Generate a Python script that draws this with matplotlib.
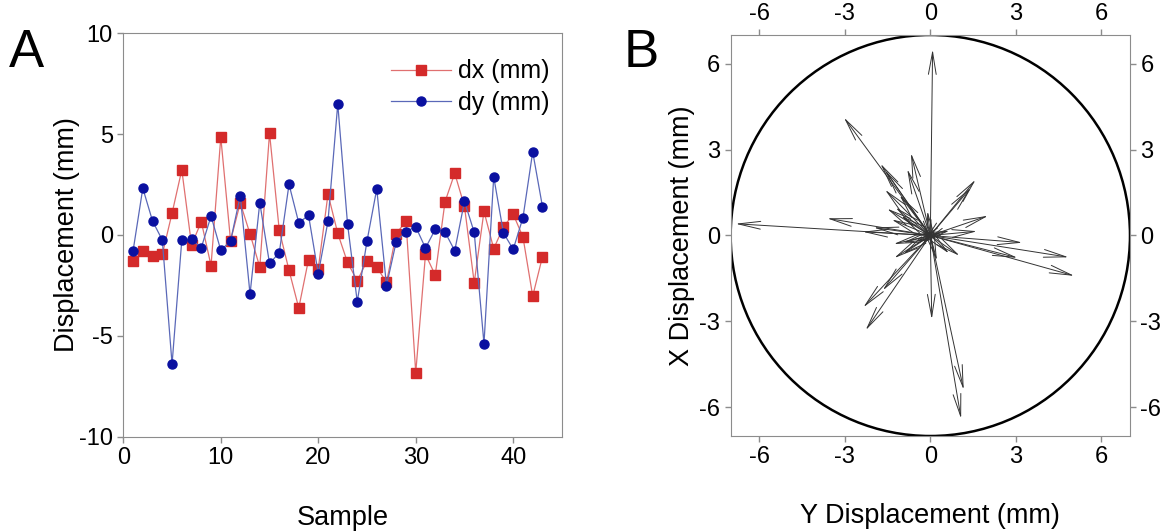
import matplotlib
matplotlib.use("Agg")
import matplotlib.pyplot as plt
from matplotlib.patches import Circle

plt.rcParams['font.family'] = ['Liberation Sans', 'DejaVu Sans']
plt.rcParams['axes.unicode_minus'] = False

sample = list(range(1, 44))
dx = [-1.27, -0.81, -1.03, -0.96, 1.08, 3.23, -0.50, 0.66, -1.52, 4.85,
      -0.28, 1.59, 0.05, -1.59, 5.05, 0.23, -1.75, -3.62, -1.22, -1.67,
      2.03, 0.08, -1.36, -2.27, -1.29, -1.59, -2.35, 0.07, 0.68, -6.83,
      -0.96, -1.99, 1.64, 3.06, 1.42, -2.37, 1.17, -0.68, 0.40, 1.03,
      -0.10, -3.03, -1.08]
dy = [-0.79, 2.32, 0.69, -0.25, -6.40, -0.25, -0.22, -0.63, 0.94, -0.76,
      -0.30, 1.95, -2.93, 1.60, -1.41, -0.88, 2.51, 0.60, 0.98, -1.92,
      0.69, 6.50, 0.56, -3.31, -0.30, 2.28, -2.51, -0.33, 0.17, 0.41,
      -0.65, 0.28, 0.15, -0.78, 1.67, 0.13, -5.39, 2.88, 0.10, -0.71,
      0.86, 4.12, 1.41]
ticks_a = [0, 10, 20, 30, 40]
yticks_a = [-10, -5, 0, 5, 10]
ticks_b = [-6, -3, 0, 3, 6]

spine_col = '#8c8c8c'
fs = 17     # tick labels
lfs = 19.5  # axis labels

fig = plt.figure(figsize=(11.7, 5.31), dpi=100)

# panel A
ax = fig.add_axes([0.1054, 0.1776, 0.3749, 0.7597])
ax.plot(sample, dx, '-s', color='#e07070', lw=0.9, ms=6.5,
        mfc='#d42a2a', mec='#d42a2a', label='dx (mm)')
ax.plot(sample, dy, '-o', color='#5a68b8', lw=0.9, ms=6.5,
        mfc='#0a10a0', mec='#0a10a0', label='dy (mm)')
ax.set_xlim(0, 45)
ax.set_ylim(-10, 10)
ax.set_xticks(ticks_a)
ax.set_yticks(yticks_a)
ax.set_xlabel('Sample', fontsize=lfs, labelpad=26)
ax.set_ylabel('Displacement (mm)', fontsize=lfs, labelpad=-1)
ax.tick_params(labelsize=fs, color=spine_col, length=4, width=1)
for s in ax.spines.values():
    s.set_color(spine_col)
ax.legend(loc='upper right', frameon=False, fontsize=18, handlelength=2.4,
          handletextpad=0.3, borderaxespad=0.0, labelspacing=0.3,
          bbox_to_anchor=(0.995, 0.96))
fig.text(0.008, 0.9, 'A', fontsize=38, va='center')

# panel B
bx = fig.add_axes([0.6245, 0.1789, 0.3413, 0.7552])
bx.add_patch(Circle((0, 0), 7, fill=False, ec='black', lw=1.8))
for u, v in zip(dx, dy):
    bx.annotate('', xy=(u, v), xytext=(0, 0),
                arrowprops=dict(arrowstyle='->,head_length=0.8,head_width=0.14',
                                color='#333333', lw=0.7, shrinkA=0, shrinkB=0,
                                mutation_scale=20))
bx.set_xlim(-7, 7)
bx.set_ylim(-7, 7)
bx.set_xticks(ticks_b)
bx.set_yticks(ticks_b)
bx.tick_params(labelsize=fs, color=spine_col, length=4, width=1,
               top=True, right=True, labeltop=True, labelright=True)
for s in bx.spines.values():
    s.set_color(spine_col)
bx.set_xlabel('Y Displacement (mm)', fontsize=lfs, labelpad=25)
bx.set_ylabel('X Displacement (mm)', fontsize=lfs, labelpad=3)
fig.text(0.533, 0.9, 'B', fontsize=38, va='center')

fig.savefig('out.png', dpi=100)
